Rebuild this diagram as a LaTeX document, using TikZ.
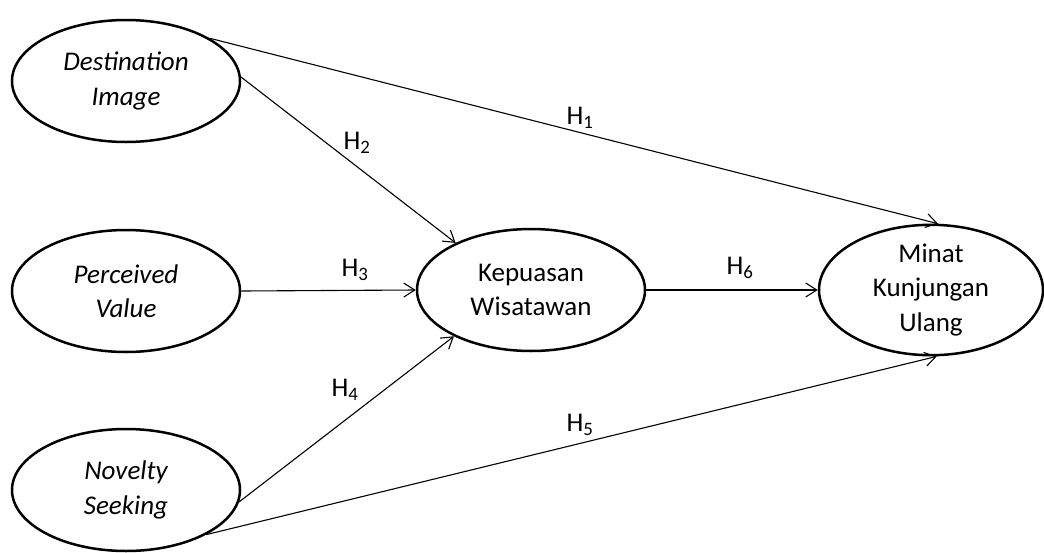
\documentclass[tikz,border=0pt]{standalone}
\usepackage{fontspec}
\setmainfont{Carlito}
\usetikzlibrary{shapes.geometric,arrows.meta}
\tikzset{
  latent/.style={draw,line width=2.5pt,ellipse,minimum width=228pt,minimum height=122pt,
    align=center,font=\fontsize{27}{34.5}\selectfont,inner sep=0pt},
  hyp/.style={line width=1.1pt,-{Straight Barb[length=11pt,width=14pt,line width=1.1pt]}},
  hlab/.style={font=\fontsize{27}{33}\selectfont,inner sep=0pt}
}
\begin{document}
\begin{tikzpicture}[x=1pt,y=-1pt]
\useasboundingbox (0,0) rectangle (1044,552);
\node[latent] (di) at (126,81) {\itshape Destination\\\itshape Image};
\node[latent] (pv) at (126,291) {\itshape Perceived\\\itshape Value};
\node[latent] (ns) at (126,490) {\itshape Novelty\\\itshape Seeking};
\node[latent] (kw) at (531,290) {Kepuasan\\Wisatawan};
\node[latent,minimum width=224pt,minimum height=128pt] (mku) at (931,290) {Minat\\Kunjungan\\Ulang};
% paths
\draw[hyp] (di.27) -- (mku.84);
\draw[hyp] (di.2) -- (kw.148);
\draw[hyp] (pv.east) -- (kw.west);
\draw[hyp] (ns.-6) -- (kw.211);
\draw[hyp] (ns.331) -- (mku.275);
\draw[hyp] (kw.east) -- (mku.west);
% labels
\node[hlab] (h1) at (580,118) {H\textsubscript{1}};
\node[hlab] (h2) at (357,143) {H\textsubscript{2}};
\node[hlab] (h3) at (355,270) {H\textsubscript{3}};
\node[hlab] (h4) at (345,390) {H\textsubscript{4}};
\node[hlab] (h5) at (580,425) {H\textsubscript{5}};
\node[hlab] (h6) at (740,268) {H\textsubscript{6}};
\end{tikzpicture}
\end{document}
